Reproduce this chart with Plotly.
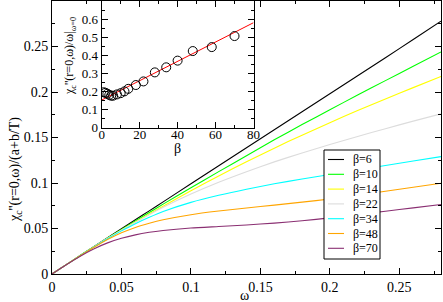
import plotly.graph_objects as go

# ---------------- data ----------------
OMEGA = [0, 0.01, 0.02, 0.03, 0.04, 0.05, 0.06, 0.07, 0.08, 0.10, 0.12, 0.14,
         0.16, 0.18, 0.20, 0.22, 0.24, 0.26, 0.28]
BETA_LABELS = ["β=6", "β=10", "β=14", "β=22", "β=34", "β=48", "β=70"]
CHI_B6 = [0, 0.01, 0.02, 0.03, 0.04, 0.0497, 0.0596, 0.0694, 0.0793, 0.0991, 0.1189,
          0.1387, 0.1585, 0.1783, 0.1981, 0.2179, 0.2377, 0.2577, 0.2778]
CHI_B10 = [0, 0.01, 0.02, 0.0298, 0.0395, 0.049, 0.0583, 0.0676, 0.0768, 0.0948, 0.1125,
           0.13, 0.1475, 0.1642, 0.1805, 0.1967, 0.2125, 0.2283, 0.244]
CHI_B14 = [0, 0.01, 0.0199, 0.0297, 0.0392, 0.0483, 0.0572, 0.0659, 0.0745, 0.0915, 0.1078,
           0.1234, 0.1383, 0.1526, 0.1663, 0.1796, 0.1924, 0.2048, 0.217]
CHI_B22 = [0, 0.01, 0.0199, 0.0297, 0.0392, 0.0481, 0.0568, 0.0652, 0.0733, 0.0878, 0.1008,
           0.1124, 0.1232, 0.133, 0.1423, 0.1512, 0.1597, 0.168, 0.176]
CHI_B34 = [0, 0.01, 0.0198, 0.0295, 0.0388, 0.0474, 0.0553, 0.0623, 0.0687, 0.0787, 0.0865,
           0.0932, 0.0991, 0.1044, 0.1094, 0.1143, 0.1192, 0.1241, 0.129]
CHI_B48 = [0, 0.01, 0.0198, 0.0292, 0.0378, 0.0452, 0.0512, 0.0558, 0.0596, 0.0652, 0.0692,
           0.0726, 0.0757, 0.079, 0.0824, 0.0866, 0.091, 0.0954, 0.0998]
CHI_B70 = [0, 0.0099, 0.0193, 0.0275, 0.0342, 0.0392, 0.043, 0.0458, 0.0478, 0.0505, 0.0522,
           0.0539, 0.0559, 0.0585, 0.0617, 0.0653, 0.069, 0.0727, 0.0764]
SERIES = [CHI_B6, CHI_B10, CHI_B14, CHI_B22, CHI_B34, CHI_B48, CHI_B70]
COLORS = ["#000000", "#00ff00", "#ffff00", "#dcdcdc", "#00ffff", "#ffa500", "#8a2f72"]

MAIN_X_TICKS = [0, 0.05, 0.1, 0.15, 0.2, 0.25]
MAIN_X_TICKTEXT = ["0", "0.05", "0.1", "0.15", "0.2", "0.25"]
MAIN_Y_TICKS = [0, 0.05, 0.1, 0.15, 0.2, 0.25]
MAIN_Y_TICKTEXT = ["0", "0.05", "0.1", "0.15", "0.2", "0.25"]

# inset
BETA_PTS = [1, 2, 3, 4, 5, 6, 8, 10, 12, 14, 18, 22, 28, 34, 40, 48, 58, 70]
RATIO = [0.195, 0.192, 0.187, 0.18, 0.176, 0.176, 0.183, 0.19, 0.2, 0.214, 0.235,
         0.255, 0.305, 0.333, 0.37, 0.423, 0.445, 0.506]
FIT_BETA = [0, 80]
FIT_VALUE = [0.152, 0.58]
INSET_X_TICKS = [0, 20, 40, 60, 80]
INSET_Y_TICKS = [0, 0.1, 0.2, 0.3, 0.4, 0.5, 0.6]
INSET_Y_TICKTEXT = ["0", "0.1", "0.2", "0.3", "0.4", "0.5", "0.6"]

# ---------------- figure ----------------
FONT = "Liberation Serif, Times New Roman, DejaVu Serif, serif"
W, H = 443, 302
ML, MR, MT, MB = 52, 2, 1, 28
PW, PH = W - ML - MR, H - MT - MB


def px_x(p):
    return (p - ML) / PW


def px_y(p):
    return (H - MB - p) / PH


fig = go.Figure()
for lab, ys, col in zip(BETA_LABELS, SERIES, COLORS):
    fig.add_trace(go.Scatter(x=OMEGA, y=ys, mode="lines", name=lab,
                             line=dict(color=col, width=1.1, shape="spline", smoothing=0.6),
                             showlegend=False, xaxis="x", yaxis="y"))

fig.add_trace(go.Scatter(x=FIT_BETA, y=FIT_VALUE, mode="lines",
                         line=dict(color="#ff0000", width=1), showlegend=False,
                         xaxis="x2", yaxis="y2"))
fig.add_trace(go.Scatter(x=BETA_PTS, y=RATIO, mode="markers",
                         marker=dict(symbol="circle-open", size=9, color="black",
                                     line=dict(width=1, color="black")),
                         showlegend=False, xaxis="x2", yaxis="y2"))

axis_common = dict(showgrid=False, zeroline=False, showline=True, linecolor="black",
                   linewidth=1, mirror="ticks", ticks="inside", tickcolor="black",
                   ticklen=6, tickwidth=1)

fig.update_layout(
    width=W, height=H,
    margin=dict(l=ML, r=MR, t=MT, b=MB, autoexpand=False),
    paper_bgcolor="white", plot_bgcolor="white",
    font=dict(family=FONT, color="black", size=14),
    xaxis=dict(domain=[0, 1], range=[0, 0.28], tickvals=MAIN_X_TICKS,
               ticktext=MAIN_X_TICKTEXT, tickfont=dict(size=14, family=FONT),
               minor=dict(dtick=0.025, ticklen=3, ticks="inside", tickcolor="black"),
               **axis_common),
    yaxis=dict(domain=[0, 1], range=[0, 0.3], tickvals=MAIN_Y_TICKS,
               ticktext=MAIN_Y_TICKTEXT, tickfont=dict(size=14, family=FONT),
               minor=dict(dtick=0.025, ticklen=3, ticks="inside", tickcolor="black"),
               **axis_common),
    xaxis2=dict(domain=[px_x(101.7), px_x(253.5)], anchor="y2", range=[0, 80],
                tickvals=INSET_X_TICKS, tickfont=dict(size=13, family=FONT),
                ticklabelstandoff=-5,
                minor=dict(dtick=10, ticklen=3, ticks="inside", tickcolor="black"),
                **axis_common),
    yaxis2=dict(domain=[px_y(127.5), 1], anchor="x2", range=[0, 0.7],
                tickvals=INSET_Y_TICKS, ticktext=INSET_Y_TICKTEXT,
                tickfont=dict(size=13, family=FONT),
                minor=dict(dtick=0.05, ticklen=3, ticks="inside", tickcolor="black"),
                **axis_common),
)

# inset background
fig.add_shape(type="rect", xref="x2 domain", yref="y2 domain", x0=0, x1=1, y0=0, y1=1,
              fillcolor="white", line=dict(width=0), layer="below")

annotations = [
    dict(text="χ<sub>c</sub>''(r=0,ω)/(a+b/T)", x=px_x(15), y=px_y(170), textangle=-90,
         font=dict(size=14, family=FONT)),
    dict(text="ω", x=px_x(244), y=px_y(295), font=dict(size=14, family=FONT)),
    dict(text="χ<sub>c</sub>''(r=0,ω)/ω|<sub>ω=0</sub>", x=px_x(70), y=px_y(56),
         textangle=-90, font=dict(size=12, family=FONT)),
    dict(text="β", x=px_x(177), y=px_y(148), font=dict(size=14, family=FONT)),
]
for a in annotations:
    fig.add_annotation(xref="paper", yref="paper", showarrow=False,
                       xanchor="center", yanchor="middle", **a)

# hand-drawn legend box (Grace style)
LEG_L, LEG_R, LEG_T, LEG_B = 324, 380, 150, 259
fig.add_shape(type="rect", xref="paper", yref="paper",
              x0=px_x(LEG_L), x1=px_x(LEG_R), y0=px_y(LEG_B), y1=px_y(LEG_T),
              fillcolor="white", line=dict(color="black", width=1))
ROW0, ROWSTEP = 159.5, 14.8
for i, (lab, col) in enumerate(zip(BETA_LABELS, COLORS)):
    yy = px_y(ROW0 + i * ROWSTEP)
    fig.add_shape(type="line", xref="paper", yref="paper",
                  x0=px_x(328), x1=px_x(344), y0=yy, y1=yy,
                  line=dict(color=col, width=1.1))
    fig.add_annotation(text=lab, xref="paper", yref="paper", x=px_x(351), y=yy,
                       xanchor="left", yanchor="middle", showarrow=False,
                       font=dict(size=12, family=FONT))

fig.write_html("out.html", config={"displayModeBar": False},
               post_script="document.body.style.margin='0';document.body.style.padding='0';")
